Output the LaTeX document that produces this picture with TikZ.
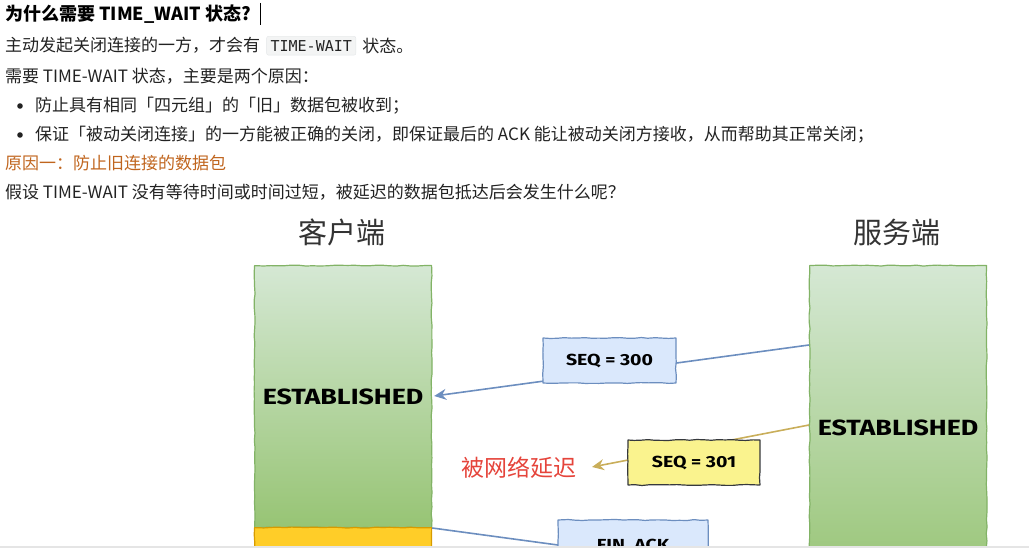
\documentclass[tikz,border=0pt]{standalone}
\usepackage{fontspec}
\setmainfont{Noto Sans CJK SC}
\newfontfamily\codefont{DejaVu Sans Mono}
\newfontfamily\sketchfont{Fira Sans}
\usetikzlibrary{positioning,arrows.meta,decorations.pathmorphing}

\definecolor{bodytext}{HTML}{222222}
\definecolor{reasoncol}{HTML}{C0651E}
\definecolor{codebg}{HTML}{F3F4F4}
\definecolor{codeline}{HTML}{E3E6E8}
\definecolor{greentop}{HTML}{D5E8D4}
\definecolor{greenbot}{HTML}{97C474}
\definecolor{greenline}{HTML}{82B366}
\definecolor{orangetop}{HTML}{FFCD28}
\definecolor{orangeline}{HTML}{D79B00}
\definecolor{bluefill}{HTML}{DAE8FC}
\definecolor{blueline}{HTML}{6C8EBF}
\definecolor{notefill}{HTML}{FAF38E}
\definecolor{noteline}{HTML}{36393D}
\definecolor{arrowyel}{HTML}{C9AE5A}
\definecolor{delayred}{HTML}{E5443B}

% 手绘字体的横向拉宽
\newcommand{\wide}[1]{\scalebox{1.22}[1]{#1}}

\begin{document}
\begin{tikzpicture}[
    x=1pt, y=-1pt,
    line join=round,
    % 正文样式
    txt/.style={anchor=base west, inner sep=0pt, text=bodytext,
        font=\fontsize{17}{20}\selectfont},
    codebox/.style={fill=codebg, draw=codeline, rounded corners=2pt,
        inner xsep=4pt, inner ysep=4pt, text=bodytext,
        font=\codefont\fontsize{15}{17}\selectfont},
    % 手绘风格的框
    sketch/.style={decorate, decoration={random steps, segment length=7pt, amplitude=0.5pt}},
    hostbox/.style={sketch, draw=greenline, line width=1.2pt, top color=greentop,
        bottom color=greenbot, anchor=north west, minimum width=177pt,
        text=black, font=\sketchfont\bfseries\fontsize{22}{24}\selectfont},
    pktbox/.style={sketch, line width=1.2pt, minimum width=133pt, minimum height=45pt,
        text=black, font=\sketchfont\bfseries\fontsize{16}{18}\selectfont},
    side/.style={text=black!80, font=\fontsize{29}{32}\selectfont},
]

% 画布范围
\useasboundingbox (0,0) rectangle (1029,548);

% ---- 文字部分 ----
\node[txt, font=\bfseries\fontsize{18}{20}\selectfont, text=black] (title) at (5,21)
    {为什么需要 TIME\_WAIT 状态?};
\draw[line width=0.8pt] (260,3) -- (260,25);

\node[txt] (l2a) at (5,52) {主动发起关闭连接的一方，才会有};
\node[codebox, right=6pt of l2a.east, anchor=west] (code) {TIME-WAIT};
\node[txt, anchor=west, right=6pt of code.east] (l2b) {状态。};

\node[txt] (l3) at (5,83) {需要 TIME-WAIT 状态，主要是两个原因：};

\fill[bodytext] (20,106) circle (2.8pt);
\node[txt] (l4) at (35,112) {防止具有相同「四元组」的「旧」数据包被收到；};
\fill[bodytext] (20,135) circle (2.8pt);
\node[txt] (l5) at (35,141)
    {保证「被动关闭连接」的一方能被正确的关闭，即保证最后的 ACK 能让被动关闭方接收，从而帮助其正常关闭；};

\node[txt, text=reasoncol] (l6) at (5,170) {原因一：防止旧连接的数据包};
\node[txt] (l7) at (5,199) {假设 TIME-WAIT 没有等待时间或时间过短，被延迟的数据包抵达后会发生什么呢？};

% ---- 示意图 ----
\begin{scope}
\clip (0,0) rectangle (1029,546);

\node[side] (clilabel) at (342,232) {客户端};
\node[side] (srvlabel) at (897,232) {服务端};

\node[hostbox, minimum height=262pt] (cli) at (254,265) {\wide{ESTABLISHED}};
\node[sketch, draw=orangeline, line width=1.2pt, fill=orangetop, anchor=north west,
    minimum width=177pt, minimum height=60pt] (cliwait) at (254,527) {};
\node[hostbox, minimum height=324pt] (srv) at (809,265) {\wide{ESTABLISHED}};

% 连线的端点
\coordinate (a1s) at ([yshift=-80pt]srv.north west);
\coordinate (a1e) at ([yshift=-131pt, xshift=2pt]cli.north east);
\coordinate (a2s) at ([yshift=-160pt]srv.north west);
\coordinate (a2e) at (592,467);
\coordinate (a3s) at ([yshift=-263pt]cli.north east);
\coordinate (a3e) at ([yshift=-314pt]srv.north west);

\draw[blueline, line width=1.6pt, -{Stealth[length=12pt, width=11pt, inset=4pt]}] (a1s) -- (a1e);
\draw[arrowyel, line width=1.6pt, -{Stealth[length=12pt, width=11pt, inset=4pt]}] (a2s) -- (a2e);
\draw[blueline, line width=1.6pt, -{Stealth[length=12pt, width=11pt, inset=4pt]}] (a3s) -- (a3e);

\node[pktbox, draw=blueline, fill=bluefill] (seq300) at (609.5,360.5) {\wide{SEQ = 300}};
\node[pktbox, draw=noteline, fill=notefill, minimum width=132pt] (seq301) at (694,462.5) {\wide{SEQ = 301}};
\node[pktbox, draw=blueline, fill=bluefill, minimum width=150pt, minimum height=52pt] (finack) at (633,546) {\wide{FIN, ACK}};

\node[text=delayred, font=\fontsize{23}{26}\selectfont] (delay) at (519,468) {被网络延迟};
\end{scope}

% 底部的灰条
\fill[black!10] (0,546) rectangle (1029,548);

\end{tikzpicture}
\end{document}
